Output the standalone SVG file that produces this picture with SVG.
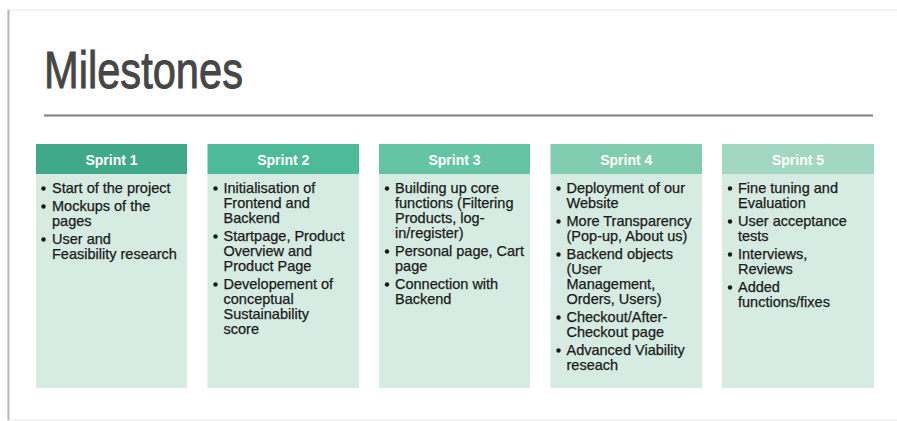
<svg xmlns="http://www.w3.org/2000/svg" width="897" height="421" viewBox="0 0 897 421">
<style>
.title{font-family:"Liberation Sans",Arial,sans-serif;font-size:52px;fill:#464646;stroke:#464646;stroke-width:0.9}
.hd{font-family:"Liberation Sans",Arial,sans-serif;font-size:14px;font-weight:bold;fill:#ffffff;text-anchor:middle}
.tx{font-family:"Liberation Sans",Arial,sans-serif;font-size:14.5px;fill:#1a1a1a;stroke:#1a1a1a;stroke-width:0.25}
.body{fill:#d6ebe2}
.dot{fill:#1a1a1a}
</style>
<rect x="0" y="0" width="897" height="421" fill="#ffffff"/>
<g id="slide">
<rect x="8" y="10" width="895" height="410" fill="#ffffff" stroke="#e8e8e8" stroke-width="1"/>
<line x1="8.5" y1="10" x2="8.5" y2="420" stroke="#b8b8b8" stroke-width="2"/>
</g>
<g id="title">
<text class="title" x="44" y="88" textLength="199" lengthAdjust="spacingAndGlyphs">Milestones</text>
<line x1="44" y1="115.5" x2="873" y2="115.5" stroke="#7d7d7d" stroke-width="2"/>
</g>
<g id="sprint1">
<rect x="36" y="144" width="151" height="30" fill="#3fa98a"/>
<rect class="body" x="36" y="174" width="151" height="214"/>
<text class="hd" x="111.5" y="164.5">Sprint 1</text>
<circle class="dot" cx="43.5" cy="188.5" r="2.2"/><text class="tx" x="52" y="193">Start of the project</text>
<circle class="dot" cx="43.5" cy="206.5" r="2.2"/><text class="tx" x="52" y="211">Mockups of the</text>
<text class="tx" x="52" y="226">pages</text>
<circle class="dot" cx="43.5" cy="239.5" r="2.2"/><text class="tx" x="52" y="244">User and</text>
<text class="tx" x="52" y="259">Feasibility research</text>
</g>
<g id="sprint2">
<rect x="207.5" y="144" width="151.5" height="30" fill="#4dbb97"/>
<rect class="body" x="207.5" y="174" width="151.5" height="214"/>
<text class="hd" x="283.25" y="164.5">Sprint 2</text>
<circle class="dot" cx="215.5" cy="188.5" r="2.2"/><text class="tx" x="223.5" y="193">Initialisation of</text>
<text class="tx" x="223.5" y="208">Frontend and</text>
<text class="tx" x="223.5" y="223">Backend</text>
<circle class="dot" cx="215.5" cy="236.5" r="2.2"/><text class="tx" x="223.5" y="241">Startpage, Product</text>
<text class="tx" x="223.5" y="256">Overview and</text>
<text class="tx" x="223.5" y="271">Product Page</text>
<circle class="dot" cx="215.5" cy="284.5" r="2.2"/><text class="tx" x="223.5" y="289">Developement of</text>
<text class="tx" x="223.5" y="304">conceptual</text>
<text class="tx" x="223.5" y="319">Sustainability</text>
<text class="tx" x="223.5" y="334">score</text>
</g>
<g id="sprint3">
<rect x="379" y="144" width="151" height="30" fill="#63c5a3"/>
<rect class="body" x="379" y="174" width="151" height="214"/>
<text class="hd" x="454.5" y="164.5">Sprint 3</text>
<circle class="dot" cx="387" cy="188.5" r="2.2"/><text class="tx" x="395" y="193">Building up core</text>
<text class="tx" x="395" y="208">functions (Filtering</text>
<text class="tx" x="395" y="223">Products, log-</text>
<text class="tx" x="395" y="238">in/register)</text>
<circle class="dot" cx="387" cy="251.5" r="2.2"/><text class="tx" x="395" y="256">Personal page, Cart</text>
<text class="tx" x="395" y="271">page</text>
<circle class="dot" cx="387" cy="284.5" r="2.2"/><text class="tx" x="395" y="289">Connection with</text>
<text class="tx" x="395" y="304">Backend</text>
</g>
<g id="sprint4">
<rect x="550.5" y="144" width="151.5" height="30" fill="#82ccb1"/>
<rect class="body" x="550.5" y="174" width="151.5" height="214"/>
<text class="hd" x="626.25" y="164.5">Sprint 4</text>
<circle class="dot" cx="558.5" cy="188.5" r="2.2"/><text class="tx" x="566.5" y="193">Deployment of our</text>
<text class="tx" x="566.5" y="208">Website</text>
<circle class="dot" cx="558.5" cy="221.5" r="2.2"/><text class="tx" x="566.5" y="226">More Transparency</text>
<text class="tx" x="566.5" y="241">(Pop-up, About us)</text>
<circle class="dot" cx="558.5" cy="254.5" r="2.2"/><text class="tx" x="566.5" y="259">Backend objects</text>
<text class="tx" x="566.5" y="274">(User</text>
<text class="tx" x="566.5" y="289">Management,</text>
<text class="tx" x="566.5" y="304">Orders, Users)</text>
<circle class="dot" cx="558.5" cy="317.5" r="2.2"/><text class="tx" x="566.5" y="322">Checkout/After-</text>
<text class="tx" x="566.5" y="337">Checkout page</text>
<circle class="dot" cx="558.5" cy="350.5" r="2.2"/><text class="tx" x="566.5" y="355">Advanced Viability</text>
<text class="tx" x="566.5" y="370">reseach</text>
</g>
<g id="sprint5">
<rect x="722" y="144" width="152" height="30" fill="#a1d7c3"/>
<rect class="body" x="722" y="174" width="152" height="214"/>
<text class="hd" x="798" y="164.5">Sprint 5</text>
<circle class="dot" cx="730" cy="188.5" r="2.2"/><text class="tx" x="738" y="193">Fine tuning and</text>
<text class="tx" x="738" y="208">Evaluation</text>
<circle class="dot" cx="730" cy="221.5" r="2.2"/><text class="tx" x="738" y="226">User acceptance</text>
<text class="tx" x="738" y="241">tests</text>
<circle class="dot" cx="730" cy="254.5" r="2.2"/><text class="tx" x="738" y="259">Interviews,</text>
<text class="tx" x="738" y="274">Reviews</text>
<circle class="dot" cx="730" cy="287.5" r="2.2"/><text class="tx" x="738" y="292">Added</text>
<text class="tx" x="738" y="307">functions/fixes</text>
</g>
<g id="connectors"/>
</svg>
